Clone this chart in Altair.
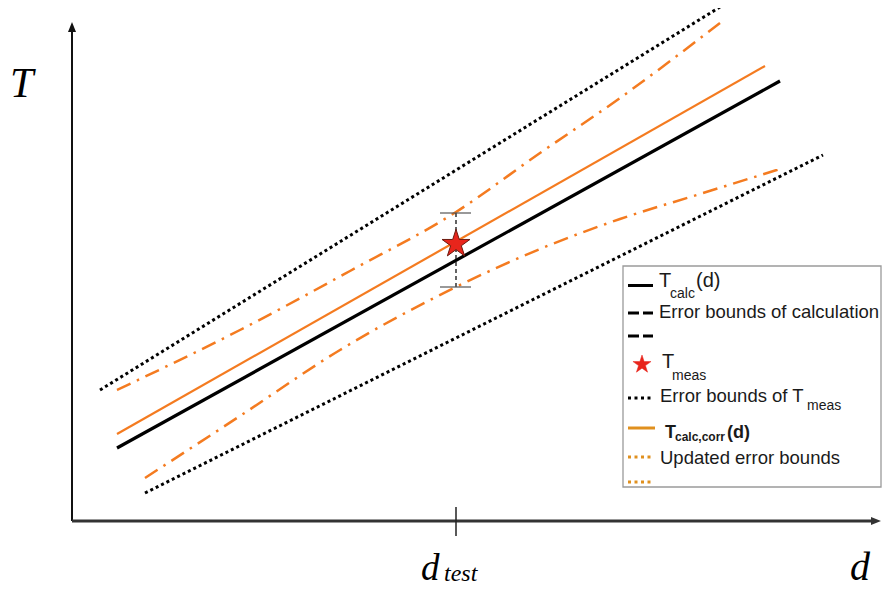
import altair as alt
import pandas as pd

# ---- schematic data (d = horizontal position, T = vertical position)
calc_d = [117, 780]
calc_T = [148, 515]
corr_d = [117, 765]
corr_T = [162, 530]
meas_up_d = [100, 720]
meas_up_T = [206, 589]
meas_lo_d = [145, 823]
meas_lo_T = [103, 441]
upd_up_d = [117, 240, 350, 456, 540, 620, 720]
upd_up_T = [206, 266, 325, 384, 443, 498, 573]
upd_lo_d = [145, 240, 340, 456, 540, 620, 700, 780]
upd_lo_T = [118, 180, 246, 309, 347, 377, 402, 427]

d_test = 456
err_lo, err_hi = 309, 383
cap_d = [440, 471]
star_T = 352

axis_origin = [72, 75]
y_axis_top = 569
x_axis_right = 876

# legend contents
leg_box = [623, 881, 109, 330]
leg_sym_d = [628, 653]
leg_rows_T = [310.5, 283, 260, 231.5, 198, 168, 139, 114]

ORANGE = "#f47b20"
LEG_ORANGE = "#e0901e"
SANS = "Liberation Sans"
SERIF = "Liberation Serif"

X = alt.X("d:Q", scale=alt.Scale(domain=[8, 883], nice=False, zero=False), axis=None)
Y = alt.Y("T:Q", scale=alt.Scale(domain=[8, 588], nice=False, zero=False), axis=None)


def line(d, t, **kw):
    df = pd.DataFrame({"d": d, "T": t})
    return alt.Chart(df).mark_line(**kw).encode(x=X, y=Y)


def hrule(d1, d2, t, **kw):
    df = pd.DataFrame({"d": [d1], "d2": [d2], "T": [t]})
    return alt.Chart(df).mark_rule(**kw).encode(x=X, x2="d2:Q", y=Y)


def vrule(d, t1, t2, **kw):
    df = pd.DataFrame({"d": [d], "T": [t1], "T2": [t2]})
    return alt.Chart(df).mark_rule(**kw).encode(x=X, y=Y, y2="T2:Q")


def text(items, **kw):
    df = pd.DataFrame(items, columns=["d", "T", "label"])
    base = dict(align="left", baseline="alphabetic")
    base.update(kw)
    return alt.Chart(df).mark_text(**base).encode(x=X, y=Y, text="label:N")


def point(d, t, shape, size, **kw):
    df = pd.DataFrame({"d": [d], "T": [t]})
    return alt.Chart(df).mark_point(shape=shape, size=size, filled=True, opacity=1, **kw).encode(x=X, y=Y)


STAR = ("M0,-1 L0.2245,-0.309 L0.9511,-0.309 L0.3633,0.118 L0.5878,0.809 L0,0.382 "
        "L-0.5878,0.809 L-0.3633,0.118 L-0.9511,-0.309 L-0.2245,-0.309 Z")
ARROW_UP = "M0,-1 L0.8,1 L-0.8,1 Z"
ARROW_RIGHT = "M1,0 L-1,0.8 L-1,-0.8 Z"

layers = []
# axes
layers.append(vrule(axis_origin[0], axis_origin[1], y_axis_top, color="#111", strokeWidth=2))
layers.append(hrule(axis_origin[0], x_axis_right, axis_origin[1], color="#333", strokeWidth=3))
layers.append(point(axis_origin[0], y_axis_top, ARROW_UP, 100, color="#111"))
layers.append(point(x_axis_right, axis_origin[1], ARROW_RIGHT, 100, color="#333"))
layers.append(vrule(d_test, 60, 89, color="#222", strokeWidth=1.5))

# curves
layers.append(line(meas_up_d, meas_up_T, color="black", strokeWidth=3, strokeDash=[3, 3]))
layers.append(line(meas_lo_d, meas_lo_T, color="black", strokeWidth=3, strokeDash=[3, 3]))
layers.append(line(upd_up_d, upd_up_T, color=ORANGE, strokeWidth=2.5, strokeDash=[15, 7, 2.5, 7], interpolate="monotone"))
layers.append(line(upd_lo_d, upd_lo_T, color=ORANGE, strokeWidth=2.5, strokeDash=[15, 7, 2.5, 7], interpolate="monotone"))
layers.append(line(calc_d, calc_T, color="black", strokeWidth=3.2))
layers.append(line(corr_d, corr_T, color=ORANGE, strokeWidth=2.2))

# measurement with error bar
layers.append(vrule(d_test, err_lo, err_hi, color="#111", strokeWidth=1.3, strokeDash=[4, 3]))
layers.append(hrule(cap_d[0], cap_d[1], err_hi, color="#555", strokeWidth=1.2))
layers.append(hrule(cap_d[0], cap_d[1], err_lo, color="#555", strokeWidth=1.2))
layers.append(point(d_test, star_T, STAR, 864, fill="#e8251c", stroke="#6b1a0e", strokeWidth=1))

# axis labels
layers.append(text([[10, 499, "T"]], font=SERIF, fontStyle="italic", fontSize=42, color="black"))
layers.append(text([[860, 16, "d"]], font=SERIF, fontStyle="italic", fontSize=40, color="black", align="center"))
layers.append(text([[421, 16, "d"]], font=SERIF, fontStyle="italic", fontSize=37, color="black"))
layers.append(text([[444, 15, "test"]], font=SERIF, fontStyle="italic", fontSize=24, color="black"))

# legend
box_df = pd.DataFrame({"d": [leg_box[0]], "d2": [leg_box[1]], "T": [leg_box[2]], "T2": [leg_box[3]]})
layers.append(alt.Chart(box_df).mark_rect(fill="white", stroke="#9a9a9a", strokeWidth=1.3).encode(
    x=X, x2="d2:Q", y=Y, y2="T2:Q"))
r = leg_rows_T
layers.append(hrule(leg_sym_d[0], leg_sym_d[1], r[0], color="black", strokeWidth=3))
layers.append(hrule(leg_sym_d[0], leg_sym_d[1], r[1], color="black", strokeWidth=3, strokeDash=[11, 4]))
layers.append(hrule(leg_sym_d[0], leg_sym_d[1], r[2], color="black", strokeWidth=3, strokeDash=[11, 4]))
layers.append(point(642, r[3], STAR, 361, fill="#e8251c", stroke="#e8251c", strokeWidth=0.5))
layers.append(hrule(leg_sym_d[0], leg_sym_d[1], r[4], color="black", strokeWidth=3, strokeDash=[3, 3.5]))
layers.append(hrule(leg_sym_d[0], leg_sym_d[1] + 2, r[5], color=LEG_ORANGE, strokeWidth=3))
layers.append(hrule(leg_sym_d[0], leg_sym_d[1], r[6], color=LEG_ORANGE, strokeWidth=3, strokeDash=[3, 3.5]))
layers.append(hrule(leg_sym_d[0], leg_sym_d[1], r[7], color=LEG_ORANGE, strokeWidth=3, strokeDash=[3, 3.5]))

INK = "#1a1a1a"
layers.append(text([[659, 309, "T"], [696, 309, "(d)"], [662, 228, "T"]],
                   font=SANS, fontSize=20, color=INK))
layers.append(text([[659, 278, "Error bounds of calculation"],
                    [660, 194, "Error bounds of T"],
                    [660, 132, "Updated error bounds"]],
                   font=SANS, fontSize=18.5, color=INK))
layers.append(text([[670, 298, "calc"], [672, 216, "meas"], [807, 186, "meas"]],
                   font=SANS, fontSize=14, color=INK))
layers.append(text([[665, 158, "T"], [727, 158, "(d)"]],
                   font=SANS, fontSize=18, fontWeight="bold", color=INK))
layers.append(text([[675, 155, "calc,corr"]],
                   font=SANS, fontSize=12, fontWeight="bold", color=INK))

chart = alt.layer(*layers).properties(
    width=875, height=580,
    autosize=alt.AutoSizeParams(type="none"),
    padding=0,
    background="white",
).configure_view(stroke=None)

chart.save("out.html", embed_options={"renderer": "svg", "actions": False})
